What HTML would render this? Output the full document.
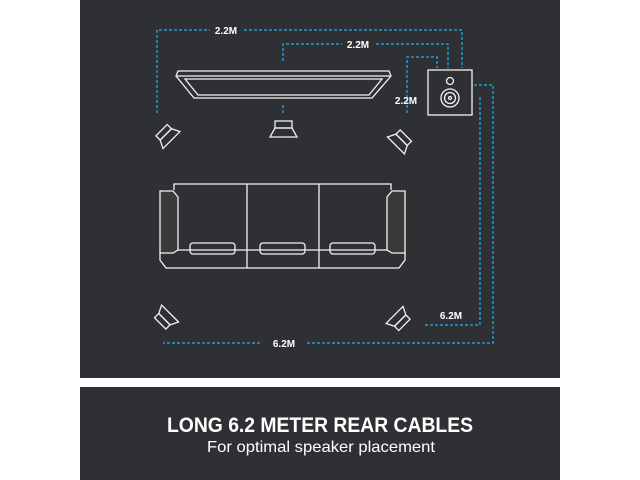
<!DOCTYPE html>
<html><head><meta charset="utf-8"><style>
html,body{margin:0;padding:0;background:#fff;width:640px;height:480px;overflow:hidden}
svg{display:block}
text{font-family:"Liberation Sans",sans-serif;fill:#fff}
</style></head><body>
<svg width="640" height="480" viewBox="0 0 640 480">
<rect x="0" y="0" width="640" height="480" fill="#fff"/>
<rect x="80" y="0" width="480" height="378" fill="#2f3034"/>
<rect x="80" y="387" width="480" height="93" fill="#2f3034"/>
<g fill="none" stroke="#1c9bd6" stroke-width="1.5" stroke-dasharray="3,2">
<path d="M157 113 V30 H462 V68"/>
<path d="M283 61 V44 H448 V68"/>
<path d="M407 113 V57 H437 V68"/>
<path d="M283 105 V113"/>
<path d="M474 85 H493 V343 H163"/>
<path d="M480 97 V325 H425"/>
</g>
<g fill="#2f3034">
<rect x="210" y="23" width="32" height="14"/>
<rect x="342" y="37" width="32" height="14"/>
<rect x="262" y="336" width="44" height="14"/>
</g>
<g font-size="10" font-weight="bold" text-anchor="middle">
<text x="226" y="34">2.2M</text>
<text x="358" y="48">2.2M</text>
<text x="406" y="104">2.2M</text>
<text x="451" y="319">6.2M</text>
<text x="284" y="347">6.2M</text>
</g>
<g fill="none" stroke="#f2f2f2" stroke-width="1.3">
<!-- soundbar -->
<polygon points="178,71 389,71 391,76 372,98 194,98 176,76"/>
<polyline points="177,76 390,76"/>
<polygon points="185,79 382,79 369,95 198,95"/>
<!-- speaker box -->
<rect x="428" y="70" width="44" height="45"/>
<circle cx="450" cy="81" r="3.5"/>
<circle cx="450" cy="98" r="9"/>
<circle cx="450" cy="98" r="5.5"/>
<circle cx="450" cy="98" r="1.5"/>
<!-- center speaker -->
<rect x="275" y="121" width="17" height="7"/>
<polygon points="275,128 292,128 297,137 270,137"/>
<!-- front left -->
<g transform="translate(163,133) rotate(45)"><rect x="-3" y="-9" width="6" height="16"/><polygon points="3,-9 3,7 11,11 11,-13"/></g>
<!-- front right -->
<g transform="translate(403,137) rotate(135)"><rect x="-3" y="-9" width="6" height="16"/><polygon points="3,-9 3,7 11,11 11,-13"/></g>
<!-- rear left -->
<g transform="translate(163,322) rotate(-45)"><rect x="-3" y="-9" width="6" height="16"/><polygon points="3,-9 3,7 11,11 11,-13"/></g>
<!-- rear right -->
<g transform="translate(403,322) rotate(-135)"><rect x="-3" y="-9" width="6" height="16"/><polygon points="3,-9 3,7 11,11 11,-13"/></g>
<!-- sofa -->
<polyline points="174,190 174,184 391,184 391,190"/>
<line x1="247" y1="184" x2="247" y2="268"/>
<line x1="319" y1="184" x2="319" y2="268"/>
<polygon points="160,191 173,191 178,197 178,250 173,253 160,253" fill="#3a3b38"/>
<polygon points="405,191 392,191 387,197 387,250 392,253 405,253" fill="#3a3b38"/>
<polyline points="160,253 160,260 166,268 399,268 405,260 405,253"/>
<line x1="178" y1="250" x2="387" y2="250"/>
<rect x="190" y="243" width="45" height="11" rx="3"/>
<rect x="260" y="243" width="45" height="11" rx="3"/>
<rect x="330" y="243" width="45" height="11" rx="3"/>
</g>
<text x="320" y="432" font-size="21" font-weight="bold" text-anchor="middle" textLength="306" lengthAdjust="spacingAndGlyphs">LONG 6.2 METER REAR CABLES</text>
<text x="321" y="452" font-size="16" text-anchor="middle" textLength="228" lengthAdjust="spacingAndGlyphs">For optimal speaker placement</text>
</svg>
</body></html>
